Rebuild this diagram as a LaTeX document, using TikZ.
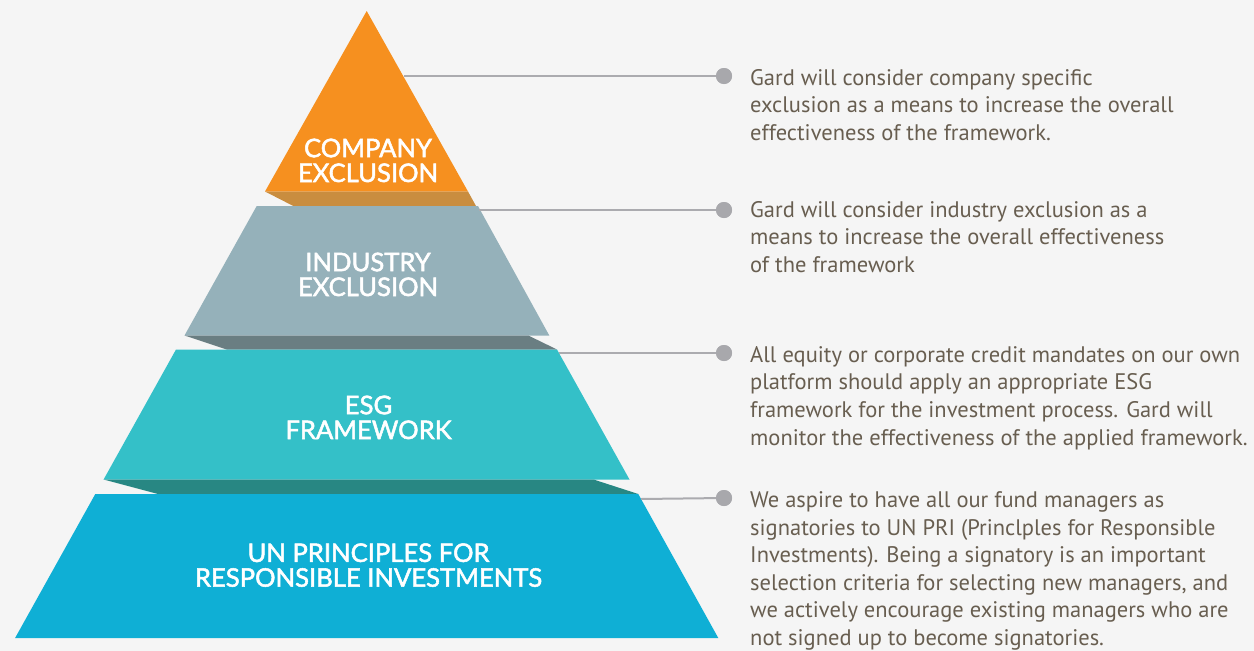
\documentclass[tikz,border=0pt]{standalone}
\usepackage{fontspec}
\setmainfont{PT Sans}
\newfontfamily\labelfont[FakeBold=2]{Lato}
\definecolor{bg}{HTML}{F5F5F5}
\definecolor{orangeband}{HTML}{F6901F}
\definecolor{orangeshade}{HTML}{C98D3F}
\definecolor{grayband}{HTML}{95B1BA}
\definecolor{grayshade}{HTML}{6A7E82}
\definecolor{tealband}{HTML}{34C0C8}
\definecolor{tealshade}{HTML}{288783}
\definecolor{blueband}{HTML}{0FAFD5}
\definecolor{linegray}{HTML}{ABABAF}
\definecolor{dotgray}{HTML}{A8A8AC}
\definecolor{txtbrown}{HTML}{685E50}
\begin{document}
\begin{tikzpicture}[x=1pt,y=-1pt,
  conn/.style={draw=linegray, line width=2pt},
  dotnode/.style={circle, fill=dotgray, inner sep=0pt, minimum size=16pt},
  desc/.style={anchor=base west, align=left, text=txtbrown, inner sep=0pt,
    font=\fontsize{22.5}{27.8}\selectfont},
  lab/.style={anchor=base, align=center, text=white, inner sep=0pt,
    font=\labelfont\fontsize{25.6}{24.8}\selectfont}]
\fill[bg] (0,0) rectangle (1254,651);
\useasboundingbox (0,0) rectangle (1254,651);
% pyramid bands and shades
\fill[orangeband] (366.7,11) -- (468,191.5) -- (265,191.5) -- cycle;
\fill[orangeshade] (265,191.5) -- (468,191.5) -- (476,206) -- (293.3,206) -- cycle;
\fill[grayband] (256.7,206) -- (478,206) -- (549.3,335.5) -- (184.5,335.5) -- cycle;
\fill[grayshade] (184.5,335.5) -- (528.3,335.5) -- (557,349.5) -- (226.7,349.5) -- cycle;
\fill[tealband] (176,349.5) -- (557,349.5) -- (629.5,479.5) -- (103.6,479.5) -- cycle;
\fill[tealshade] (103.6,479.5) -- (593.5,479.5) -- (638.3,494) -- (158,494) -- cycle;
\fill[blueband] (95.3,494) -- (638.3,494) -- (718.3,638) -- (15.1,638) -- cycle;
% labels (anchor = baseline of last line)
\node[lab] (l1) at (368,182) {COMPANY\\EXCLUSION};
\node[lab] (l2) at (368,296) {INDUSTRY\\EXCLUSION};
\node[lab] (l3) at (368.5,439) {ESG\\FRAMEWORK};
\node[lab] (l4) at (368.5,586.7) {UN PRINCIPLES FOR\\RESPONSIBLE INVESTMENTS};
% connectors
\coordinate (e1) at (404,76);
\coordinate (e2) at (479,210);
\coordinate (e3) at (559,353);
\coordinate (e4) at (641,499);
\node[dotnode] (d1) at (724,76) {};
\node[dotnode] (d2) at (724,210) {};
\node[dotnode] (d3) at (724,353) {};
\node[dotnode] (d4) at (724,498) {};
\draw[conn] (e1) -- (d1.center);
\draw[conn] (e2) -- (d2.center);
\draw[conn] (e3) -- (d3.center);
\draw[conn] (e4) -- (d4.center);
\node[dotnode] at (d1) {};
\node[dotnode] at (d2) {};
\node[dotnode] at (d3) {};
\node[dotnode] at (d4) {};
% descriptions (anchor = baseline of last line)
\node[desc] (t1) at (750,140.6) {Gard will consider company specific\\exclusion as a means to increase the overall\\effectiveness of the framework.};
\node[desc] (t2) at (750,272.6) {Gard will consider industry exclusion as a\\means to increase the overall effectiveness\\of the framework};
\node[desc] (t3) at (750,445.5) {All equity or corporate credit mandates on our own\\platform should apply an appropriate ESG\\framework for the investment process. Gard will\\monitor the effectiveness of the applied framework.};
\node[desc, font=\fontsize{22.5}{27.5}\selectfont] (t4) at (750,645) {We aspire to have all our fund managers as\\signatories to UN PRI (Princlples for Responsible\\Investments). Being a signatory is an important\\selection criteria for selecting new managers, and\\we actively encourage existing managers who are\\not signed up to become signatories.};
\end{tikzpicture}
\end{document}
